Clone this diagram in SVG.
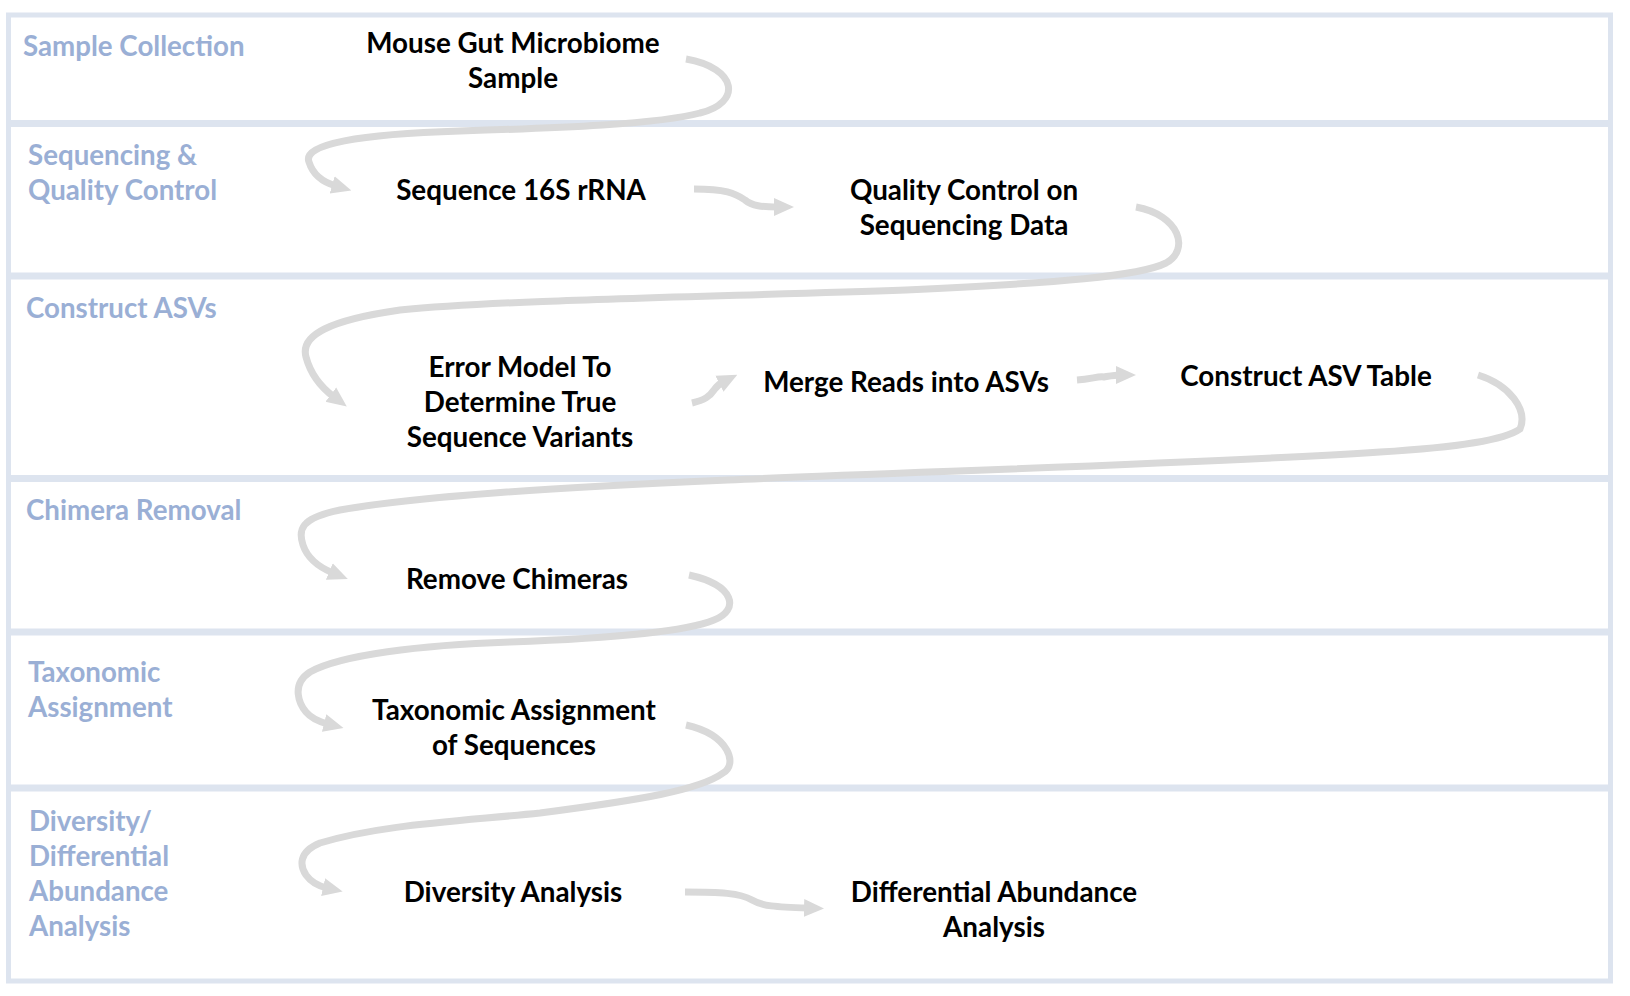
<svg xmlns="http://www.w3.org/2000/svg" width="1630" height="996" viewBox="0 0 1630 996">
<style>
.frame{fill:#ffffff;stroke:#dde4ef;stroke-width:5}
.sep{stroke:#dde4ef;stroke-width:7}
.lane{font-family:Lato,"Liberation Sans",sans-serif;font-weight:bold;font-size:27.7px;fill:#9aafd5}
.node{font-family:Lato,"Liberation Sans",sans-serif;font-weight:bold;font-size:27.8px;fill:#000000;text-anchor:middle}
.conn{fill:none;stroke:#d9d9d9;stroke-width:7;stroke-linecap:butt}
</style>
<defs>
<marker id="ah" viewBox="0 0 20 20" refX="4" refY="10" markerWidth="20" markerHeight="20" markerUnits="userSpaceOnUse" orient="auto">
<path d="M0,1 L20,10 L0,19 Z" fill="#d9d9d9"/>
</marker>
</defs>
<g id="lanes">
<rect class="frame" x="8.5" y="15" width="1602" height="966"/>
<line class="sep" x1="8" y1="123.5" x2="1611" y2="123.5"/>
<line class="sep" x1="8" y1="276" x2="1611" y2="276"/>
<line class="sep" x1="8" y1="478.5" x2="1611" y2="478.5"/>
<line class="sep" x1="8" y1="632" x2="1611" y2="632"/>
<line class="sep" x1="8" y1="788" x2="1611" y2="788"/>
</g>
<g id="lane-labels">
<text class="lane" x="23" y="56">Sample Collection</text>
<text class="lane" x="28" y="165">Sequencing &amp;</text>
<text class="lane" x="28" y="200">Quality Control</text>
<text class="lane" x="26" y="318">Construct ASVs</text>
<text class="lane" x="26" y="520">Chimera Removal</text>
<text class="lane" x="28" y="682">Taxonomic</text>
<text class="lane" x="28" y="717">Assignment</text>
<text class="lane" x="29" y="831">Diversity/</text>
<text class="lane" x="29" y="866">Differential</text>
<text class="lane" x="29" y="901">Abundance</text>
<text class="lane" x="29" y="936">Analysis</text>
</g>
<g id="connectors">
<path class="conn" marker-end="url(#ah)" d="M686,59 C738,68 742,103 700,113 C660,124 560,128 460,131 C360,134 302,144 309,162 C313,175 322,182 336,186"/>
<path class="conn" marker-end="url(#ah)" d="M694,189 C725,189 735,193 745,200 C752,206 762,207 778,207"/>
<path class="conn" marker-end="url(#ah)" d="M1136,207 C1180,215 1190,250 1166,263 C1140,276 1060,283 906,290 C700,297 500,300 400,310 C330,320 300,335 306,357 C310,372 318,385 334,397"/>
<path class="conn" marker-end="url(#ah)" d="M692,403 C705,400 710,396 714,390 C717,386 719,384 723,382"/>
<path class="conn" marker-end="url(#ah)" d="M1077,380 C1092,379 1098,376 1104,377 C1110,376 1115,375 1120,375"/>
<path class="conn" marker-end="url(#ah)" d="M1478,375 C1510,385 1528,410 1520,429 C1505,440 1460,447 1380,452 C1200,464 900,472 728,480 C550,488 420,496 340,510 C300,518 298,530 303,545 C307,557 316,566 333,573"/>
<path class="conn" marker-end="url(#ah)" d="M689,575 C735,585 740,610 714,620 C690,630 620,638 510,642 C420,645 340,655 310,672 C290,685 300,705 306,712 C311,718 320,722 328,724"/>
<path class="conn" marker-end="url(#ah)" d="M686,725 C730,735 738,765 723,773 C700,790 640,800 540,813 C450,822 380,825 320,843 C298,852 300,866 306,875 C311,882 318,886 327,888"/>
<path class="conn" marker-end="url(#ah)" d="M685,892 C720,892 740,893 752,900 C762,906 775,907 808,908"/>
</g>
<g id="node-mouse"><text class="node" x="513" y="52.5">Mouse Gut Microbiome</text><text class="node" x="513" y="87.5">Sample</text></g>
<g id="node-seq16s"><text class="node" x="521" y="199.5">Sequence 16S rRNA</text></g>
<g id="node-qc"><text class="node" x="964" y="199.5">Quality Control on</text><text class="node" x="964" y="234.5">Sequencing Data</text></g>
<g id="node-error"><text class="node" x="520" y="376.5">Error Model To</text><text class="node" x="520" y="411.5">Determine True</text><text class="node" x="520" y="446.5">Sequence Variants</text></g>
<g id="node-merge"><text class="node" x="906" y="391.5">Merge Reads into ASVs</text></g>
<g id="node-asvtable"><text class="node" x="1306" y="385.5">Construct ASV Table</text></g>
<g id="node-chimeras"><text class="node" x="517" y="588.5">Remove Chimeras</text></g>
<g id="node-taxa"><text class="node" x="514" y="719.5">Taxonomic Assignment</text><text class="node" x="514" y="754.5">of Sequences</text></g>
<g id="node-diversity"><text class="node" x="513" y="901.5">Diversity Analysis</text></g>
<g id="node-diffab"><text class="node" x="994" y="901.5">Differential Abundance</text><text class="node" x="994" y="936.5">Analysis</text></g>
</svg>
